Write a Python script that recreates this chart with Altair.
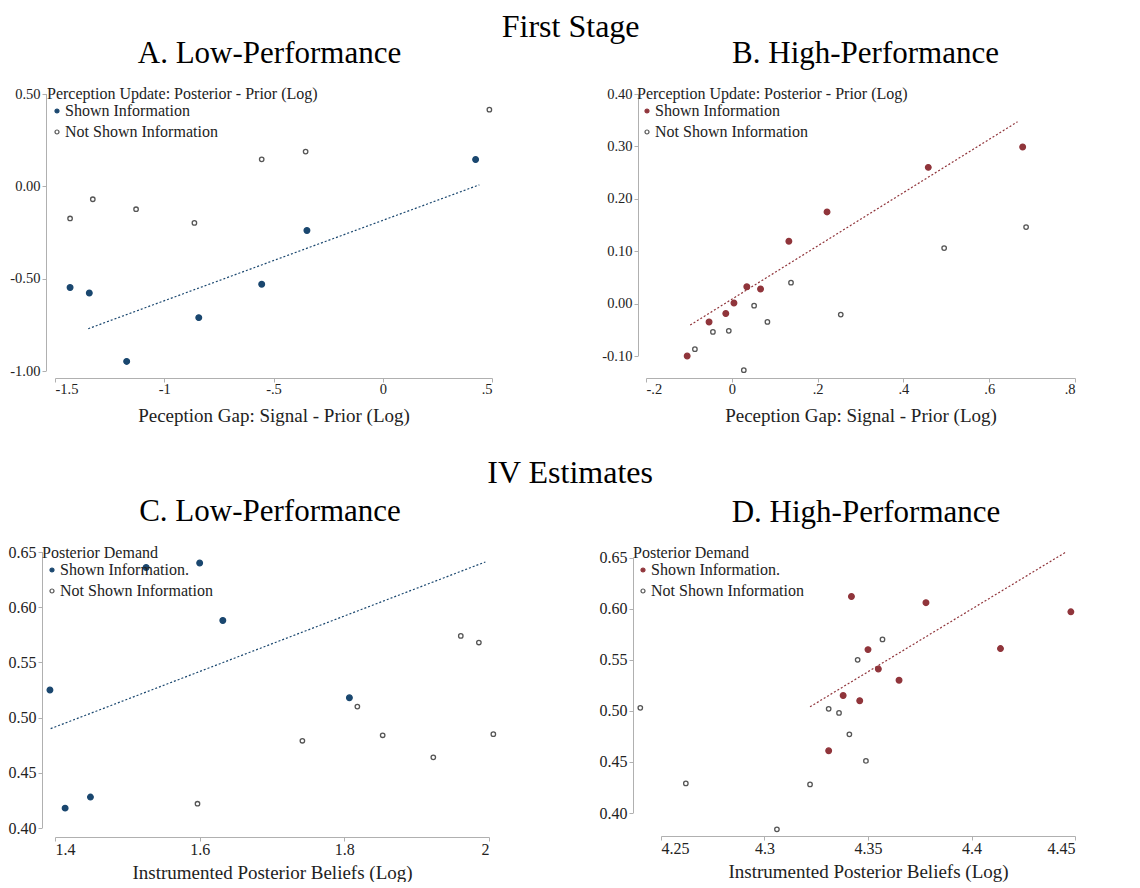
import altair as alt
import pandas as pd

NOT_LABEL = "Not Shown Information"
BLUE = "#1a476f"
RED = "#90353b"
GRAY = "#555555"
AXC = "#b0b0b0"
TXT = "#222222"
FONT = "Liberation Serif"

# ---------------- Panel A: First stage, low performance ----------------
a_shown_x = [-1.431, -1.343, -1.172, -0.842, -0.554, -0.347, 0.425]
a_shown_y = [-0.548, -0.578, -0.948, -0.711, -0.530, -0.239, 0.145]
a_not_x = [-1.431, -1.327, -1.129, -0.862, -0.554, -0.353, 0.488]
a_not_y = [-0.174, -0.070, -0.124, -0.198, 0.146, 0.188, 0.415]
a_fit_x = [-1.348, 0.442]
a_fit_y = [-0.771, 0.008]
a_xticks = [-1.5, -1.0, -0.5, 0.0, 0.5]
a_xlabels = ["-1.5", "-1", "-.5", "0", ".5"]
a_yticks = [-1.0, -0.5, 0.0, 0.5]
a_ylabels = ["-1.00", "-0.50", "0.00", "0.50"]

# ---------------- Panel B: First stage, high performance ----------------
b_shown_x = [-0.104, -0.053, -0.014, 0.005, 0.035, 0.067, 0.133, 0.222, 0.458, 0.678]
b_shown_y = [-0.100, -0.035, -0.019, 0.001, 0.032, 0.028, 0.119, 0.175, 0.260, 0.299]
b_not_x = [-0.086, -0.044, -0.007, 0.028, 0.052, 0.083, 0.138, 0.254, 0.495, 0.686]
b_not_y = [-0.087, -0.054, -0.052, -0.127, -0.004, -0.035, 0.040, -0.021, 0.106, 0.146]
b_fit_x = [-0.097, 0.666]
b_fit_y = [-0.041, 0.347]
b_xticks = [-0.2, 0.0, 0.2, 0.4, 0.6, 0.8]
b_xlabels = ["-.2", "0", ".2", ".4", ".6", ".8"]
b_yticks = [-0.1, 0.0, 0.1, 0.2, 0.3, 0.4]
b_ylabels = ["-0.10", "0.00", "0.10", "0.20", "0.30", "0.40"]

# ---------------- Panel C: IV estimates, low performance ----------------
c_shown_x = [1.393, 1.414, 1.449, 1.526, 1.600, 1.632, 1.807]
c_shown_y = [0.525, 0.418, 0.428, 0.636, 0.640, 0.588, 0.518]
c_not_x = [1.597, 1.742, 1.818, 1.853, 1.923, 1.961, 1.986, 2.006]
c_not_y = [0.422, 0.479, 0.510, 0.484, 0.464, 0.574, 0.568, 0.485]
c_fit_x = [1.394, 1.995]
c_fit_y = [0.490, 0.641]
c_xticks = [1.4, 1.6, 1.8, 2.0]
c_xlabels = ["1.4", "1.6", "1.8", "2"]
c_yticks = [0.40, 0.45, 0.50, 0.55, 0.60, 0.65]
c_ylabels = ["0.40", "0.45", "0.50", "0.55", "0.60", "0.65"]

# ---------------- Panel D: IV estimates, high performance ----------------
d_shown_x = [4.331, 4.338, 4.342, 4.346, 4.350, 4.355, 4.365, 4.378, 4.414, 4.448]
d_shown_y = [0.461, 0.515, 0.612, 0.510, 0.560, 0.541, 0.530, 0.606, 0.561, 0.597]
d_not_x = [4.240, 4.262, 4.306, 4.322, 4.331, 4.336, 4.341, 4.345, 4.349, 4.357]
d_not_y = [0.503, 0.429, 0.384, 0.428, 0.502, 0.498, 0.477, 0.550, 0.451, 0.570]
d_fit_x = [4.322, 4.446]
d_fit_y = [0.504, 0.656]
d_xticks = [4.25, 4.30, 4.35, 4.40, 4.45]
d_xlabels = ["4.25", "4.3", "4.35", "4.4", "4.45"]
d_yticks = [0.40, 0.45, 0.50, 0.55, 0.60, 0.65]
d_ylabels = ["0.40", "0.45", "0.50", "0.55", "0.60", "0.65"]


def lab_expr(vals, labs):
    s = " : ".join(f"datum.value == {v} ? '{l}'" for v, l in zip(vals, labs))
    return s + " : ''"


def panel(sx, sy, nx, ny, fx, fy, xt, xl, yt, yl, color, title, ytitle, xtitle,
          shown_label, width, height, ytop, yoff, xoff, legx, legy, tick_fs,
          title_dx, sym_off, lab_off, xt_pad):
    df = pd.DataFrame({
        "x": sx + nx,
        "y": sy + ny,
        "grp": [shown_label] * len(sx) + [NOT_LABEL] * len(nx),
        "sz": ["big"] * len(sx) + ["small"] * len(nx),
    })
    fit = pd.DataFrame({"x": fx, "y": fy})
    axis_line = pd.DataFrame({"y": [yt[0]], "y2": [yt[-1]]})

    xscale = alt.Scale(domain=[xt[0], xt[-1]], nice=False, zero=False)
    yscale = alt.Scale(domain=[yt[0], ytop], nice=False, zero=False)
    xaxis = alt.Axis(values=xt, labelExpr=lab_expr(xt, xl), title=xtitle, offset=xoff,
                     grid=False, labelFontSize=tick_fs, titleFontSize=19,
                     labelPadding=0, titlePadding=xt_pad)
    yaxis = alt.Axis(values=yt, labelExpr=lab_expr(yt, yl), title=None, offset=yoff,
                     grid=False, domain=False, labelFontSize=tick_fs, labelPadding=2)

    def X(f="x"):
        return alt.X(f"{f}:Q", scale=xscale, axis=xaxis)

    def Y(f="y"):
        return alt.Y(f"{f}:Q", scale=yscale, axis=yaxis)

    dom = [shown_label, NOT_LABEL]
    leg = alt.Legend(title=ytitle, orient="none", legendX=legx, legendY=legy,
                     padding=0, titleFontSize=16, labelFontSize=16, titleLimit=500,
                     titleFontWeight="normal", titleFont=FONT, labelFont=FONT,
                     titleColor=TXT, labelColor=TXT, symbolType="circle",
                     symbolSize=16, symbolStrokeWidth=1.2, rowPadding=5,
                     titlePadding=1, symbolOffset=sym_off, labelOffset=lab_off)

    pts = alt.Chart(df).mark_circle(opacity=1, strokeWidth=1.3).encode(
        x=X(), y=Y(),
        fill=alt.Fill("grp:N", scale=alt.Scale(domain=dom, range=[color, "white"]), legend=leg),
        stroke=alt.Stroke("grp:N", scale=alt.Scale(domain=dom, range=[color, GRAY]), legend=leg),
        size=alt.Size("sz:N", scale=alt.Scale(domain=["big", "small"], range=[32, 20]), legend=None),
    )
    line = alt.Chart(fit).mark_line(color=color, strokeDash=[2, 2], strokeWidth=1.2).encode(
        x=X(), y=Y())
    rule = alt.Chart(axis_line).mark_rule(color=AXC, strokeWidth=1).encode(
        y=Y("y"), y2="y2:Q", x=alt.value(-yoff + 0.5))

    return alt.layer(rule, line, pts).properties(
        width=width, height=height,
        title=alt.TitleParams(title, fontSize=31, font=FONT, fontWeight="normal",
                              color="black", offset=16, anchor="middle", frame="group",
                              dx=title_dx),
    )


PU = "Perception Update: Posterior - Prior (Log)"
PG = "Peception Gap: Signal - Prior (Log)"
PD = "Posterior Demand"
IB = "Instrumented Posterior Beliefs (Log)"

A = panel(a_shown_x, a_shown_y, a_not_x, a_not_y, a_fit_x, a_fit_y,
          a_xticks, a_xlabels, a_yticks, a_ylabels, BLUE, "A. Low-Performance",
          PU, PG, "Shown Information", 437, 277, 0.5, 9, 7, -8, -8, 14.5, -4, 2, 0, 11)
B = panel(b_shown_x, b_shown_y, b_not_x, b_not_y, b_fit_x, b_fit_y,
          b_xticks, b_xlabels, b_yticks, b_ylabels, RED, "B. High-Performance",
          PU, PG, "Shown Information", 429, 262, 0.4, 8, 22, -9, -8, 14.5, 5, 2, 0, 11)
C = panel(c_shown_x, c_shown_y, c_not_x, c_not_y, c_fit_x, c_fit_y,
          c_xticks, c_xlabels, c_yticks, c_ylabels, BLUE, "C. Low-Performance",
          PD, IB, "Shown Information.", 434, 276, 0.65, 13, 9, -13, -7, 16, -2, 2, 0, 6)
D = panel(d_shown_x, d_shown_y, d_not_x, d_not_y, d_fit_x, d_fit_y,
          d_xticks, d_xlabels, d_yticks, d_ylabels, RED, "D. High-Performance",
          PD, IB, "Shown Information.", 414, 261, 0.6556, 28, 23, -28, -7, 16, -2, 2, 0, 6)

IND = dict(fill="independent", stroke="independent", size="independent",
           x="independent", y="independent")


def row_title(t, off):
    return alt.TitleParams(t, fontSize=32, font=FONT, fontWeight="normal", color="black",
                           offset=off, anchor="middle", frame="bounds", dx=28)


row1 = alt.hconcat(A, B, spacing=154, bounds="flush", title=row_title("First Stage", -6)
                   ).resolve_scale(**IND).resolve_legend(fill="independent", stroke="independent")
row2 = alt.hconcat(C, D, spacing=172, bounds="flush", title=row_title("IV Estimates", 6)
                   ).resolve_scale(**IND).resolve_legend(fill="independent", stroke="independent")

chart = alt.vconcat(row1, row2, spacing=31,
                    padding={"left": 0, "top": 3, "right": 0, "bottom": 0}
                    ).resolve_scale(**IND).resolve_legend(
    fill="independent", stroke="independent"
).configure_view(
    stroke=None
).configure_axis(
    domainColor=AXC, tickColor=AXC, tickSize=4, labelColor=TXT, titleColor=TXT,
    labelFont=FONT, titleFont=FONT, titleFontWeight="normal"
).configure_legend(
    labelFont=FONT, titleFont=FONT
)

chart.save("out.html", embed_options={"renderer": "svg", "actions": False})
